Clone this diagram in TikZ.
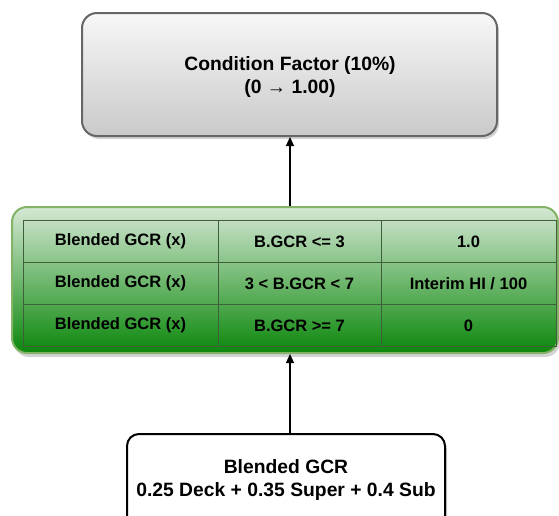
\documentclass[tikz,border=0pt]{standalone}
\usepackage{fontspec}
\setmainfont{Liberation Sans}
\usetikzlibrary{shadows,arrows.meta}
\definecolor{boxborder}{HTML}{666666}
\definecolor{greenborder}{HTML}{82B366}
\definecolor{greentop}{HTML}{D5E8D4}
\definecolor{greenbot}{HTML}{0B870B}
\definecolor{cellline}{HTML}{3F5F3A}
\tikzset{
  titlebox/.style={draw=boxborder, line width=2pt, rounded corners=15pt,
    top color=gray!6, bottom color=gray!42,
    drop shadow={shadow xshift=2pt, shadow yshift=-3pt, opacity=0.35}},
  bigtext/.style={align=center, inner sep=0pt,
    font=\fontsize{19.3}{23.5}\selectfont\bfseries},
  groupbox/.style={draw=greenborder, line width=2pt, rounded corners=15pt,
    top color=greentop, bottom color=greenbot,
    drop shadow={shadow xshift=2pt, shadow yshift=-4pt, opacity=0.35}},
  cell/.style={draw=cellline, line width=0.9pt, inner sep=0pt,
    font=\fontsize{16.5}{19}\selectfont\bfseries},
  sourcebox/.style={draw=black, line width=2pt, rounded corners=12pt,
    fill=white,
    drop shadow={shadow xshift=2pt, shadow yshift=-3pt, opacity=0.35}},
  link/.style={draw=black, line width=1.2pt, -{Triangle[length=9pt,width=8pt]}}
}
\begin{document}
\begin{tikzpicture}[x=1pt,y=-1pt]
\useasboundingbox (0,0) rectangle (559,515);
\begin{scope}
\clip (0,0) rectangle (559,515);
% top box
\node[titlebox, minimum width=415pt, minimum height=123pt] (cf) at (289.5,74.5) {};
\node[bigtext] (cftext) at (290,77) {Condition Factor (10\%)\\(0 → 1.00)};
% green group
\node[groupbox, minimum width=546pt, minimum height=146pt] (grp) at (285,280) {};
% table cells
\node[cell, minimum width=195pt, minimum height=41.7pt] (a1) at (120.5,241.5) {Blended GCR (x)};
\node[cell, minimum width=163pt, minimum height=41.7pt] (b1) at (299.5,241.5) {B.GCR <= 3};
\node[cell, minimum width=175pt, minimum height=41.7pt] (c1) at (468.5,241.5) {1.0};
\node[cell, minimum width=195pt, minimum height=41.7pt] (a2) at (120.5,283.5) {Blended GCR (x)};
\node[cell, minimum width=163pt, minimum height=41.7pt] (b2) at (299.5,283.5) {3 < B.GCR < 7};
\node[cell, minimum width=175pt, minimum height=41.7pt] (c2) at (468.5,283.5) {Interim HI / 100};
\node[cell, minimum width=195pt, minimum height=41.7pt] (a3) at (120.5,325.5) {Blended GCR (x)};
\node[cell, minimum width=163pt, minimum height=41.7pt] (b3) at (299.5,325.5) {B.GCR >= 7};
\node[cell, minimum width=175pt, minimum height=41.7pt] (c3) at (468.5,325.5) {0};
% bottom box
\node[sourcebox, minimum width=318pt, minimum height=100pt] (gcr) at (286,484) {};
\node[bigtext] (gcrtext) at (286,480) {Blended GCR\\0.25 Deck + 0.35 Super + 0.4 Sub};
\path (gcr.north) ++(4,0) coordinate (gcrtop);
\draw[link] (gcrtop) -- (gcrtop |- grp.south);
\draw[link] (gcrtop |- grp.north) -- (gcrtop |- cf.south);
\end{scope}
\end{tikzpicture}
\end{document}
